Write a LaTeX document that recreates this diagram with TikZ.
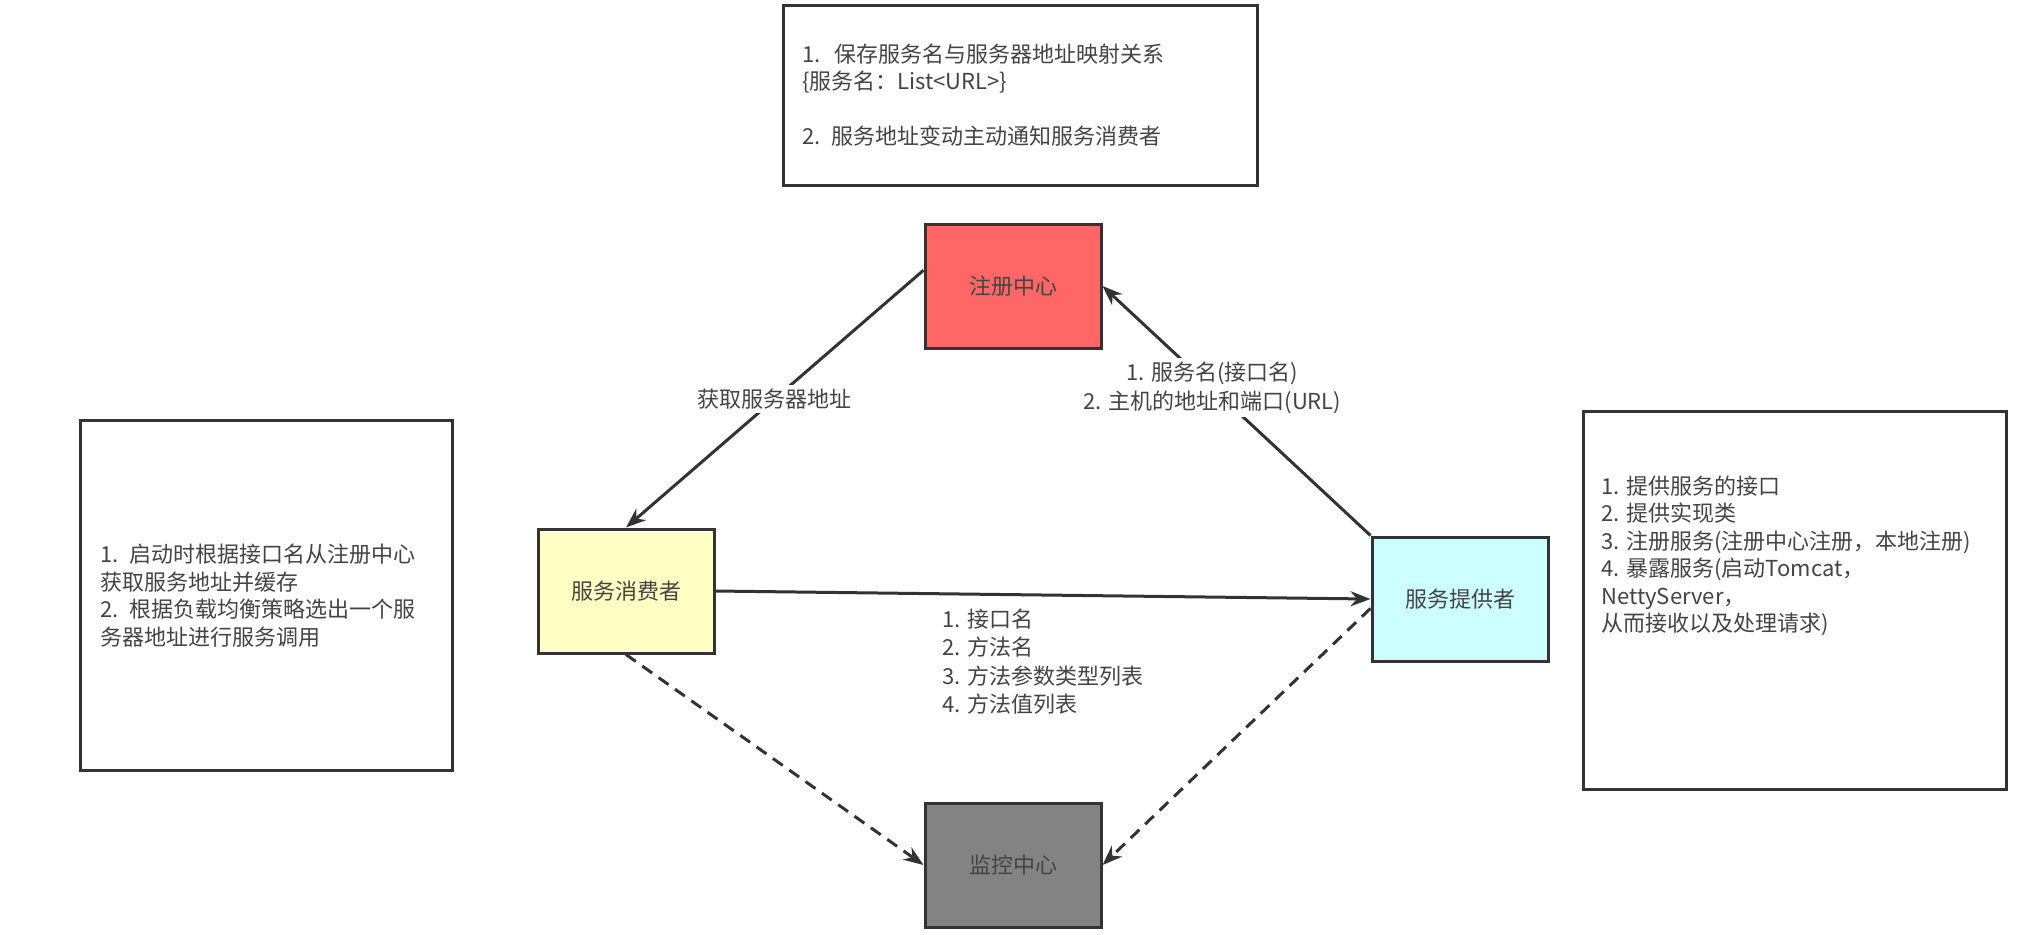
\documentclass[tikz,border=0pt]{standalone}
\usepackage{fontspec}
\setmainfont{Noto Sans CJK SC}
\usetikzlibrary{arrows.meta, positioning}
\definecolor{edge}{HTML}{333333}
\definecolor{txt}{HTML}{444444}
\definecolor{regred}{HTML}{FF6666}
\definecolor{consyellow}{HTML}{FFFFC4}
\definecolor{provcyan}{HTML}{CCFFFF}
\definecolor{mongray}{HTML}{838383}
\tikzset{
  svc/.style={rectangle, draw=edge, line width=1.5pt, minimum width=88pt,
              minimum height=62pt, text=txt, font=\fontsize{11}{14}\selectfont},
  note/.style={rectangle, draw=edge, line width=1.5pt, align=left,
               text=txt, font=\fontsize{11}{13.75}\selectfont},
  notetext/.style={inner sep=0pt, align=left, text=txt, font=\fontsize{11}{13.75}\selectfont},
  arrow/.style={-{Stealth[length=10pt, width=7.5pt]}, line width=1.5pt, draw=edge},
  dasharrow/.style={arrow, dash pattern=on 6pt off 4pt},
  lbl/.style={fill=white, inner sep=2pt, align=center, text=txt,
              font=\fontsize{11}{14.25}\selectfont},
}
\begin{document}
\begin{tikzpicture}[x=0.5pt, y=-0.5pt]
  \useasboundingbox (0,0) rectangle (2032,934);
  \node[svc, fill=regred] (reg) at (1013,286) {注册中心};
  \node[svc, fill=consyellow, below left=89pt and 104pt of reg] (cons) {服务消费者};
  \node[svc, fill=provcyan, below right=93pt and 134pt of reg] (prov) {服务提供者};
  \node[svc, fill=mongray, below=226pt of reg] (mon) {监控中心};

  \node[note, text width=218pt, inner xsep=9.5pt, minimum height=90pt,
        above=18pt of reg, xshift=3.5pt] (regnote)
       {1.\ \ 保存服务名与服务器地址映射关系\\\{服务名：List<URL>\}\\[13.75pt]2. 服务地址变动主动通知服务消费者};
  \node[note, text width=166pt, inner xsep=10pt, minimum height=175pt,
        left=41.5pt of cons, yshift=-2.2pt] (consnote)
       {1. 启动时根据接口名从注册中心\\获取服务地址并缓存\\2. 根据负载均衡策略选出一个服\\务器地址进行服务调用};
  \node[note, minimum width=211.5pt, minimum height=189pt,
        right=16.3pt of prov, yshift=-0.5pt] (provnote) {};
  \node[notetext, below right=33pt and 9.5pt of provnote.north west] (provtext)
       {1. 提供服务的接口\\2. 提供实现类\\3. 注册服务(注册中心注册，本地注册)\\4. 暴露服务(启动Tomcat，\\NettyServer，\\从而接收以及处理请求)};

  \draw[arrow] (reg.170) -- node[lbl]{获取服务器地址} (cons.north);
  \draw[arrow] (prov.north west) -- node[lbl, xshift=-12pt, yshift=11.5pt]
       {1. 服务名(接口名)\\2. 主机的地址和端口(URL)} (reg.east);
  \draw[arrow] (cons.east) -- node[lbl, below=4pt, align=left]
       {1. 接口名\\2. 方法名\\3. 方法参数类型列表\\4. 方法值列表} (prov.west);
  \draw[dasharrow] (cons.south) -- (mon.west);
  \draw[dasharrow] (prov.186) -- (mon.east);
\end{tikzpicture}
\end{document}
